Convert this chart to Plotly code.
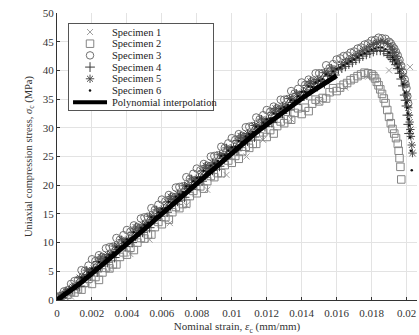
import plotly.graph_objects as go

# ---------------- data ----------------
# pre-peak strain readings (mm/mm); two reading grids used by the specimens
strain_grid_a = [0.0000, 0.0002, 0.0004, 0.0006, 0.0008, 0.0010, 0.0012, 0.0014, 0.0016, 0.0018,
                 0.0020, 0.0022, 0.0024, 0.0026, 0.0028, 0.0030, 0.0032, 0.0034, 0.0036, 0.0038,
                 0.0040, 0.0042, 0.0044, 0.0046, 0.0048, 0.0050, 0.0052, 0.0054, 0.0056, 0.0058,
                 0.0060, 0.0062, 0.0064, 0.0066, 0.0068, 0.0070, 0.0072, 0.0074, 0.0076, 0.0078,
                 0.0080, 0.0082, 0.0084, 0.0086, 0.0088, 0.0090, 0.0092, 0.0094, 0.0096, 0.0098,
                 0.0100, 0.0102, 0.0104, 0.0106, 0.0108, 0.0110, 0.0112, 0.0114, 0.0116, 0.0118,
                 0.0120, 0.0122, 0.0124, 0.0126, 0.0128, 0.0130, 0.0132, 0.0134, 0.0136, 0.0138,
                 0.0140, 0.0142, 0.0144, 0.0146, 0.0148, 0.0150, 0.0152, 0.0154, 0.0156, 0.0158,
                 0.0160]
strain_grid_b = [0.0001, 0.0003, 0.0005, 0.0007, 0.0009, 0.0011, 0.0013, 0.0015, 0.0017, 0.0019,
                 0.0021, 0.0023, 0.0025, 0.0027, 0.0029, 0.0031, 0.0033, 0.0035, 0.0037, 0.0039,
                 0.0041, 0.0043, 0.0045, 0.0047, 0.0049, 0.0051, 0.0053, 0.0055, 0.0057, 0.0059,
                 0.0061, 0.0063, 0.0065, 0.0067, 0.0069, 0.0071, 0.0073, 0.0075, 0.0077, 0.0079,
                 0.0081, 0.0083, 0.0085, 0.0087, 0.0089, 0.0091, 0.0093, 0.0095, 0.0097, 0.0099,
                 0.0101, 0.0103, 0.0105, 0.0107, 0.0109, 0.0111, 0.0113, 0.0115, 0.0117, 0.0119,
                 0.0121, 0.0123, 0.0125, 0.0127, 0.0129, 0.0131, 0.0133, 0.0135, 0.0137, 0.0139,
                 0.0141, 0.0143, 0.0145, 0.0147, 0.0149, 0.0151, 0.0153, 0.0155, 0.0157, 0.0159,
                 0.0161]

# Specimen 1 (x markers, sparse)
s1_strain = [0.0008, 0.0018, 0.0030, 0.0042, 0.0053, 0.00646, 0.00741, 0.0086, 0.0097, 0.01084,
             0.01179, 0.0134, 0.0150, 0.0165, 0.0178, 0.0190, 0.0202]
s1_stress = [0.6, 2.6, 5.4, 8.0, 10.5, 13.4, 16.5, 19.2, 21.8, 25.0,
             27.9, 31.5, 34.5, 37.0, 38.9, 40.0, 40.6]

# Specimen 2 (squares)
s2_pre_stress = [0.0, 0.4, 0.2, 0.9, 1.4, 1.3, 1.9, 1.8, 3.0, 3.7,
                 2.8, 4.0, 3.5, 4.8, 5.6, 5.5, 6.2, 6.2, 7.5, 8.3,
                 7.9, 9.1, 8.7, 10.0, 10.8, 10.7, 11.4, 11.4, 12.7, 13.6,
                 13.2, 14.4, 14.0, 15.3, 16.2, 16.0, 16.7, 16.8, 18.1, 19.0,
                 18.6, 19.8, 19.4, 20.7, 21.6, 21.4, 22.1, 22.1, 23.5, 24.3,
                 23.9, 25.1, 24.6, 25.9, 26.7, 26.5, 27.2, 27.2, 28.5, 29.2,
                 28.4, 29.6, 29.0, 30.3, 31.1, 30.8, 31.5, 31.4, 32.6, 33.4,
                 32.4, 33.5, 32.9, 34.2, 34.9, 34.6, 35.2, 35.1, 36.2, 36.9,
                 36.4]
s2_post_strain = [0.0162, 0.0164, 0.0166, 0.0168, 0.0170, 0.0172, 0.0174, 0.0176, 0.0178, 0.0180,
                  0.0181, 0.0182, 0.0183, 0.0184, 0.0185, 0.0186, 0.0187, 0.0188, 0.0189, 0.0190,
                  0.0191, 0.0192, 0.0193, 0.0194, 0.0195, 0.01955, 0.0196, 0.01965, 0.0197]
s2_post_stress = [37.0, 37.5, 37.8, 38.3, 38.6, 39.0, 39.3, 39.6, 39.5, 39.3,
                  39.0, 38.6, 38.0, 37.4, 36.7, 35.9, 35.1, 34.3, 33.1, 31.9,
                  30.8, 29.8, 29.0, 28.2, 27.2, 26.0, 24.7, 23.2, 21.0]

# Specimen 3 (circles)
s3_pre_stress = [0.6, 0.7, 1.5, 1.7, 2.8, 3.3, 3.5, 5.2, 5.1, 6.0,
                 7.1, 6.8, 7.8, 7.5, 9.0, 9.2, 9.3, 10.8, 10.5, 11.3,
                 12.2, 11.9, 13.0, 12.7, 14.2, 14.4, 14.5, 16.0, 15.7, 16.6,
                 17.5, 17.2, 18.3, 18.0, 19.6, 19.7, 19.8, 21.4, 21.1, 22.0,
                 22.9, 22.6, 23.7, 23.4, 25.0, 25.1, 25.2, 26.7, 26.5, 27.3,
                 28.2, 27.9, 28.9, 28.6, 30.1, 30.2, 30.3, 31.8, 31.5, 32.2,
                 33.1, 32.8, 33.7, 33.4, 34.9, 34.9, 35.0, 36.4, 36.0, 36.8,
                 37.9, 37.5, 38.4, 38.1, 39.5, 39.5, 39.5, 40.9, 40.4, 41.1,
                 41.9]
s3_post_strain = [0.0162, 0.0164, 0.0166, 0.0168, 0.0170, 0.0172, 0.0174, 0.0176, 0.0178, 0.0180,
                  0.0182, 0.0184, 0.0186, 0.0188, 0.0190, 0.0191, 0.0192, 0.0193, 0.0194, 0.0195,
                  0.0196, 0.0197, 0.0198, 0.0199, 0.01995, 0.0200, 0.02005, 0.0201]
s3_post_stress = [42.1, 42.5, 42.6, 43.1, 43.3, 43.8, 44.0, 44.5, 44.7, 45.2,
                  45.3, 45.7, 45.6, 45.5, 45.0, 44.7, 44.2, 43.8, 43.2, 42.6,
                  41.8, 40.8, 39.7, 38.4, 37.6, 36.9, 35.5, 34.2]

# Specimen 4 (plus)
s4_pre_stress = [0.1, 0.4, 1.1, 1.8, 1.8, 2.6, 2.3, 3.7, 4.4, 4.2,
                 5.3, 4.9, 5.9, 7.0, 6.6, 7.7, 7.4, 8.8, 9.5, 9.3,
                 10.4, 10.0, 11.1, 12.2, 11.8, 12.9, 12.6, 14.0, 14.7, 14.6,
                 15.7, 15.3, 16.4, 17.5, 17.2, 18.2, 17.9, 19.4, 20.1, 20.0,
                 21.1, 20.7, 21.8, 22.9, 22.6, 23.6, 23.3, 24.7, 25.5, 25.3,
                 26.4, 26.0, 27.0, 28.1, 27.7, 28.7, 28.4, 29.8, 30.5, 30.2,
                 31.3, 30.9, 31.8, 32.9, 32.5, 33.4, 33.1, 34.4, 35.0, 34.8,
                 36.2, 35.7, 36.6, 37.7, 37.2, 38.1, 37.7, 39.0, 39.5, 39.2,
                 40.2]
s4_post_strain = [0.0163, 0.0165, 0.0167, 0.0169, 0.0171, 0.0173, 0.0175, 0.0177, 0.0179, 0.0181,
                  0.0183, 0.0185, 0.0187, 0.0189, 0.0190, 0.0191, 0.0192, 0.0193, 0.0194, 0.0195,
                  0.0196, 0.0197, 0.0198, 0.0199, 0.01995, 0.0200, 0.02005, 0.0201, 0.02015]
s4_post_stress = [40.4, 40.7, 41.1, 41.4, 41.8, 42.1, 42.5, 42.8, 43.0, 43.3,
                  43.5, 43.5, 43.3, 42.9, 42.6, 42.3, 41.9, 41.5, 41.0, 40.3,
                  39.5, 38.5, 37.3, 35.7, 34.8, 33.8, 32.2, 30.6, 29.0]

# Specimen 5 (asterisks)
s5_pre_stress = [0.0, 0.9, 1.5, 1.7, 2.3, 2.4, 3.9, 4.0, 5.2, 5.0,
                 5.5, 6.7, 7.5, 7.2, 7.9, 8.0, 9.4, 9.4, 10.5, 10.2,
                 10.6, 11.8, 12.7, 12.4, 13.1, 13.2, 14.6, 14.6, 15.7, 15.5,
                 15.9, 17.1, 18.0, 17.7, 18.5, 18.5, 19.9, 20.0, 21.1, 20.9,
                 21.3, 22.5, 23.4, 23.1, 23.9, 23.9, 25.3, 25.3, 26.5, 26.2,
                 26.6, 27.8, 28.6, 28.3, 29.0, 29.0, 30.4, 30.4, 31.5, 31.1,
                 31.5, 32.7, 33.4, 33.1, 33.8, 33.7, 35.1, 35.0, 36.0, 35.7,
                 36.3, 37.4, 38.1, 37.8, 38.4, 38.3, 39.6, 39.5, 40.4, 40.0,
                 40.3]
s5_post_strain = [0.0163, 0.0165, 0.0167, 0.0169, 0.0171, 0.0173, 0.0175, 0.0177, 0.0179, 0.0181,
                  0.0183, 0.0185, 0.0187, 0.0189, 0.0191, 0.0192, 0.0193, 0.0194, 0.0195, 0.0196,
                  0.0197, 0.0198, 0.0199, 0.0200, 0.02005, 0.0201, 0.02014, 0.02018, 0.02022, 0.02025,
                  0.0203, 0.02034]
s5_post_stress = [41.0, 41.4, 41.8, 42.1, 42.6, 42.9, 43.4, 43.7, 44.1, 44.5,
                  44.8, 45.0, 45.0, 44.7, 44.1, 43.6, 43.1, 42.5, 41.8, 41.1,
                  40.2, 39.0, 37.6, 35.9, 34.8, 33.5, 32.2, 31.0, 29.7, 28.5,
                  27.0, 25.6]

# Specimen 6 (dots)
s6_pre_stress = [0.2, 0.5, 1.2, 1.4, 2.0, 2.5, 3.0, 3.9, 4.0, 4.8,
                 5.5, 5.6, 6.6, 6.5, 7.4, 7.9, 8.3, 9.2, 9.2, 10.0,
                 10.6, 10.7, 11.8, 11.7, 12.6, 13.1, 13.5, 14.4, 14.4, 15.3,
                 15.9, 16.0, 17.1, 17.0, 18.0, 18.4, 18.8, 19.8, 19.8, 20.7,
                 21.3, 21.4, 22.5, 22.4, 23.4, 23.8, 24.2, 25.1, 25.2, 26.0,
                 26.6, 26.7, 27.7, 27.6, 28.5, 28.9, 29.3, 30.2, 30.2, 30.9,
                 31.5, 31.6, 32.5, 32.4, 33.3, 33.6, 34.0, 34.8, 34.7, 35.5,
                 36.3, 36.3, 37.2, 37.1, 37.9, 38.2, 38.5, 39.3, 39.1, 39.8,
                 40.3]
s6_post_strain = [0.0162, 0.0164, 0.0166, 0.0168, 0.0170, 0.0172, 0.0174, 0.0176, 0.0178, 0.0180,
                  0.0182, 0.0184, 0.0186, 0.0188, 0.0190, 0.0192, 0.0193, 0.0194, 0.0195, 0.0196,
                  0.0197, 0.0198, 0.0199, 0.0200, 0.02004, 0.02008, 0.02012, 0.02015, 0.02018, 0.0202,
                  0.02025, 0.0203]
s6_post_stress = [40.5, 40.9, 41.2, 41.6, 41.9, 42.3, 42.7, 43.0, 43.3, 43.6,
                  43.8, 44.0, 44.0, 43.7, 43.1, 42.3, 41.8, 41.2, 40.5, 39.8,
                  38.8, 37.6, 36.1, 34.4, 33.5, 32.5, 31.5, 30.4, 29.4, 28.3,
                  26.0, 22.6]

# Polynomial interpolation (black line)
poly_strain = [0.0000, 0.0004, 0.0008, 0.0012, 0.0016, 0.0020, 0.0024, 0.0028, 0.0032, 0.0036,
               0.0040, 0.0044, 0.0048, 0.0052, 0.0056, 0.0060, 0.0064, 0.0068, 0.0072, 0.0076,
               0.0080, 0.0084, 0.0088, 0.0092, 0.0096, 0.0100, 0.0104, 0.0108, 0.0112, 0.0116,
               0.0120, 0.0124, 0.0128, 0.0132, 0.0136, 0.0140, 0.0144, 0.0148, 0.0152, 0.0156,
               0.0160]
poly_stress = [0.0, 0.8, 1.65, 2.6, 3.6, 4.6, 5.62, 6.64, 7.66, 8.68,
               9.7, 10.76, 11.82, 12.88, 13.94, 15.0, 16.08, 17.16, 18.24, 19.32,
               20.4, 21.48, 22.55, 23.61, 24.66, 25.7, 26.72, 27.72, 28.7, 29.66,
               30.6, 31.54, 32.46, 33.36, 34.24, 35.1, 35.94, 36.76, 37.56, 38.34,
               39.1]

x_ticks = [0, 0.002, 0.004, 0.006, 0.008, 0.01, 0.012, 0.014, 0.016, 0.018, 0.02]
x_tick_labels = ["0", "0.002", "0.004", "0.006", "0.008", "0.01", "0.012", "0.014", "0.016", "0.018", "0.02"]
y_ticks = [0, 5, 10, 15, 20, 25, 30, 35, 40, 45, 50]

legend_names = ["Specimen 1", "Specimen 2", "Specimen 3", "Specimen 4", "Specimen 5", "Specimen 6",
                "Polynomial interpolation"]

# ---------------- assemble series ----------------
series = [
    (s1_strain, s1_stress),
    (strain_grid_a + s2_post_strain, s2_pre_stress + s2_post_stress),
    (strain_grid_a + s3_post_strain, s3_pre_stress + s3_post_stress),
    (strain_grid_b + s4_post_strain, s4_pre_stress + s4_post_stress),
    (strain_grid_b + s5_post_strain, s5_pre_stress + s5_post_stress),
    (strain_grid_a + s6_post_strain, s6_pre_stress + s6_post_stress),
]

# ---------------- styles ----------------
FONT = "Liberation Serif"
marker_styles = [
    dict(symbol="x-thin-open", size=6, color="#a0a0a0", line=dict(width=1, color="#a0a0a0")),
    dict(symbol="square-open", size=7.5, color="#858585", line=dict(width=1, color="#858585")),
    dict(symbol="circle-open", size=7.5, color="#707070", line=dict(width=1, color="#707070")),
    dict(symbol="cross-thin-open", size=7, color="#3c3c3c", line=dict(width=1, color="#3c3c3c")),
    dict(symbol="asterisk-open", size=7, color="#4c4c4c", line=dict(width=1, color="#4c4c4c")),
    dict(symbol="circle", size=2.5, color="#111111", line=dict(width=0)),
]

fig = go.Figure()
for i, (xs, ys) in enumerate(series):
    fig.add_trace(go.Scatter(x=xs, y=ys, mode="markers", marker=marker_styles[i], name=legend_names[i],
                             showlegend=False, xaxis="x", yaxis="y"))
fig.add_trace(go.Scatter(x=poly_strain, y=poly_stress, mode="lines", line=dict(color="black", width=5),
                         name=legend_names[6], showlegend=False, xaxis="x", yaxis="y"))

# ---------------- custom legend (on an inset subplot) ----------------
n_rows = len(legend_names)
row_y = [1 - (0.093 + 0.136 * i) for i in range(n_rows)]
sym_x = 0.146
for i, mk in enumerate(marker_styles):
    fig.add_trace(go.Scatter(x=[sym_x], y=[row_y[i]], mode="markers", marker=mk, showlegend=False,
                             hoverinfo="skip", xaxis="x2", yaxis="y2"))
fig.add_trace(go.Scatter(x=[0.028, 0.264], y=[row_y[6], row_y[6]], mode="lines",
                         line=dict(color="black", width=4), showlegend=False, hoverinfo="skip",
                         xaxis="x2", yaxis="y2"))
for i, name in enumerate(legend_names):
    fig.add_annotation(x=0.285, y=row_y[i], xref="x2", yref="y2", text=name, showarrow=False,
                       xanchor="left", yanchor="middle", font=dict(family=FONT, size=10.5, color="#222"))

W, H = 419, 335
L, R, T, B = 57, 2, 13, 35
pw, ph = W - L - R, H - T - B

def px_to_paper_x(px):
    return (px - L) / pw

def px_to_paper_y(py):
    return (H - B - py) / ph

tick_font = dict(family=FONT, size=11, color="#333")
fig.update_layout(
    width=W, height=H,
    margin=dict(l=L, r=R, t=T, b=B, pad=0),
    paper_bgcolor="white", plot_bgcolor="white",
    showlegend=False,
    font=dict(family=FONT, size=11, color="#333"),
    xaxis=dict(range=[0, 0.0206], tickvals=x_ticks, ticktext=x_tick_labels,
               showgrid=True, gridcolor="#e3e3e3", gridwidth=1, zeroline=False,
               showline=True, linecolor="#333", linewidth=1, ticks="inside", ticklen=3,
               tickcolor="#333", tickfont=tick_font, ticklabelstandoff=3,
               title=dict(text="Nominal strain, <i>ε</i><sub>c</sub> (mm/mm)",
                          font=dict(family=FONT, size=11, color="#333"), standoff=4)),
    yaxis=dict(range=[0, 50], tickvals=y_ticks,
               showgrid=True, gridcolor="#e3e3e3", gridwidth=1, zeroline=False,
               showline=True, linecolor="#333", linewidth=1, ticks="inside", ticklen=3,
               tickcolor="#333", tickfont=tick_font,
               title=dict(text="Uniaxial compression stress, <i>σ</i><sub>c</sub> (MPa)",
                          font=dict(family=FONT, size=10.5, color="#333"), standoff=8)),
    xaxis2=dict(domain=[px_to_paper_x(69), px_to_paper_x(213)], range=[0, 1], anchor="y2",
                showgrid=False, zeroline=False, showticklabels=False, ticks="",
                showline=True, mirror=True, linecolor="#555", linewidth=1, fixedrange=True),
    yaxis2=dict(domain=[px_to_paper_y(110), px_to_paper_y(24)], range=[0, 1], anchor="x2",
                showgrid=False, zeroline=False, showticklabels=False, ticks="",
                showline=True, mirror=True, linecolor="#555", linewidth=1, fixedrange=True),
)

fig.write_html("out.html")
